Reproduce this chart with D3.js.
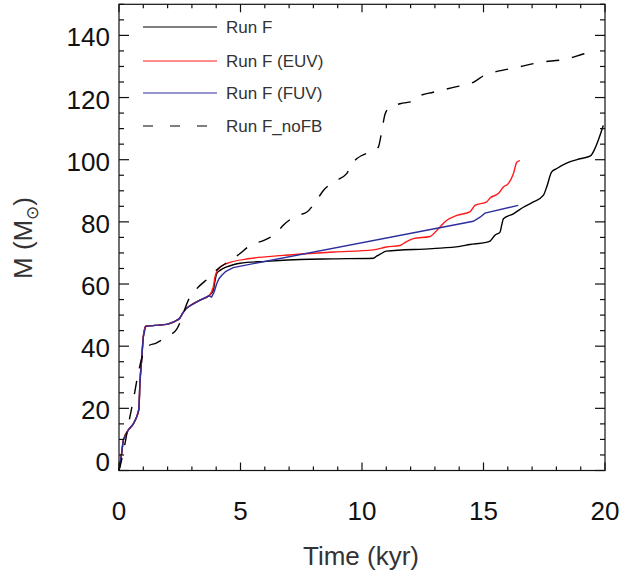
<html>
<head>
<script src="https://d3js.org/d3.v7.min.js"></script>
<style>
  body { margin: 0; background: #fff; }
  svg text { font-family: "Liberation Sans", Helvetica, Arial, sans-serif; }
</style>
</head>
<body>
<svg id="chart" width="622" height="575"></svg>
<script>
// time in kyr, mass in Msun
const early = [[0,0],[0.1,5],[0.18,9.8],[0.38,13],[0.59,15],[0.73,17.3],[0.82,19.8],[0.86,28],
  [0.93,35.5],[1.0,43],[1.1,46.4],[1.5,46.7],[1.96,47],[2.3,48],[2.5,49],[2.62,50.6],
  [2.75,52],[2.92,53],[3.33,54.8],[3.7,56.2]];

const runF = early.concat([[3.88,58],[3.95,61],[4.02,63.3],[4.16,64.4],[4.43,65.5],[4.7,66.2],
  [4.98,66.7],[6.08,67.3],[7.45,67.9],[8.82,68.1],[10.47,68.3],[10.6,69.0],[10.75,69.6],
  [11.0,70.6],[12.9,71.4],[14.03,72.1],[14.44,72.7],[15.1,73.4],[15.27,73.8],[15.47,75.7],
  [15.68,76.7],[15.75,79],[15.82,81],[16.23,82.6],[16.64,84.7],[17.05,86.4],[17.46,88.5],
  [17.6,91.2],[17.8,96],[18.0,97.1],[18.42,98.9],[18.97,100.3],[19.4,101.2],[19.55,103],
  [19.72,106.2],[19.93,111]]);

const runEUV = early.concat([[3.88,59],[3.95,62.3],[4.09,64.8],[4.43,66.6],[5.39,68.2],[6.76,69.2],
  [8.82,70.3],[10.47,71],[11.0,71.9],[11.56,72.4],[11.8,73.5],[12.11,74.6],[12.8,75.3],
  [13.14,77.8],[13.49,80.5],[13.9,82.1],[14.44,83.2],[14.65,85.3],[15.13,86.4],[15.27,87.7],
  [15.61,89.1],[15.82,91.2],[16.02,92.3],[16.23,95.5],[16.37,99.2],[16.5,99.7]]);

const runFUV = early.concat([[3.81,55.8],[3.92,57.5],[4.02,60.1],[4.12,61.8],[4.23,62.8],
  [4.4,64.1],[4.7,65.3],[14.58,80.2],[14.86,81.5],[15.06,82.8],[16.43,85.3]]);

const runNoFB = [[0,0],[0.04,1.2],[0.25,8.8],[0.45,17.3],[0.59,22.7],[0.79,31.2],[1.0,37.7],
  [1.14,39.8],[1.55,41.1],[1.96,43],[2.37,45.4],[2.92,55.8],[3.2,58.5],[3.74,62.3],[4.09,65],
  [4.57,67.5],[4.98,69.8],[5.39,72.4],[5.94,74],[6.49,76.5],[6.76,78.9],[7.31,82],[7.72,83.1],
  [8.13,86.9],[8.41,90.1],[8.82,92.8],[9.37,95.5],[9.58,98.7],[9.78,100.3],[10.47,103],
  [10.67,104],[10.81,109],[10.95,114.7],[11.15,116.9],[11.56,118],[12.18,119],[12.39,120.6],
  [12.93,121.7],[13.9,123.5],[14.58,124.9],[15.0,127],[15.41,128.1],[16.37,129.7],
  [17.32,131.3],[18.42,132.4],[19.1,134],[19.52,134.8]];

const xTicks = [0, 5, 10, 15, 20];
const yTicks = [0, 20, 40, 60, 80, 100, 120, 140];
const legendNames = ["Run F", "Run F (EUV)", "Run F (FUV)", "Run F_noFB"];

var svg = d3.select("#chart");
var x = d3.scaleLinear().domain([0, 20]).range([119, 605]);
var y = d3.scaleLinear().domain([0, 150]).range([470.5, 4.3]);

var series = [
  { data: runF, color: "#000000", dash: null, curve: d3.curveMonotoneX },
  { data: runEUV, color: "#ff1a1a", dash: null, curve: d3.curveMonotoneX },
  { data: runFUV, color: "#2e2e9e", dash: null, curve: d3.curveLinear },
  { data: runNoFB, color: "#000000", dash: "13,13", curve: d3.curveMonotoneX }
];

svg.append("g").selectAll("path")
  .data(series)
  .enter()
  .append("path")
  .attr("d", d => d3.line().x(p => x(p[0])).y(p => y(p[1])).curve(d.curve)(d.data))
  .attr("fill", "none")
  .attr("stroke", d => d.color)
  .attr("stroke-width", 1.4)
  .attr("stroke-dasharray", d => d.dash);

// axes box with inward ticks (IDL style)
var xMinor = d3.range(0, 21, 1);
var yMinor = d3.range(0, 151, 5);

var axes = svg.append("g").attr("stroke", "#111").attr("stroke-width", 1.2);
axes.append("rect")
  .attr("x", x(0)).attr("y", y(150))
  .attr("width", x(20) - x(0)).attr("height", y(0) - y(150))
  .attr("fill", "none");

xMinor.forEach(function (t) {
  var len = (t % 5 === 0) ? 8 : 4;
  axes.append("line").attr("x1", x(t)).attr("x2", x(t)).attr("y1", y(0)).attr("y2", y(0) - len);
  axes.append("line").attr("x1", x(t)).attr("x2", x(t)).attr("y1", y(150)).attr("y2", y(150) + len);
});
yMinor.forEach(function (m) {
  var len = (m % 20 === 0) ? 10 : 5;
  axes.append("line").attr("x1", x(0)).attr("x2", x(0) + len).attr("y1", y(m)).attr("y2", y(m));
  axes.append("line").attr("x1", x(20)).attr("x2", x(20) - len).attr("y1", y(m)).attr("y2", y(m));
});

svg.append("g").selectAll("text")
  .data(xTicks)
  .enter()
  .append("text")
  .attr("x", d => x(d))
  .attr("y", 520)
  .attr("text-anchor", "middle")
  .attr("font-size", 26)
  .attr("fill", "#111")
  .text(d => d);

svg.append("g").selectAll("text")
  .data(yTicks)
  .enter()
  .append("text")
  .attr("x", 110)
  .attr("y", d => d === 0 ? y(d) : y(d) + 11)
  .attr("text-anchor", "end")
  .attr("font-size", 26)
  .attr("fill", "#111")
  .text(d => d);

svg.append("text")
  .attr("x", 361)
  .attr("y", 565)
  .attr("text-anchor", "middle")
  .attr("font-size", 26)
  .attr("fill", "#333")
  .text("Time (kyr)");

var yt = svg.append("text")
  .attr("transform", "translate(32,238) rotate(-90)")
  .attr("text-anchor", "middle")
  .attr("font-size", 26)
  .attr("fill", "#333");
yt.append("tspan").text("M (M");
yt.append("tspan").attr("font-size", 17).attr("dy", 6).text("\u2299");
yt.append("tspan").attr("dy", -6).text(")");

// legend
var leg = svg.append("g").selectAll("g")
  .data(series)
  .enter()
  .append("g")
  .attr("transform", (d, i) => "translate(0," + [27, 61, 93, 126][i] + ")");
leg.append("line")
  .attr("x1", 143).attr("x2", 217)
  .attr("stroke", d => d.color)
  .attr("stroke-width", 1.1)
  .attr("stroke-dasharray", d => d.dash ? "10,17" : null);
leg.append("text")
  .attr("x", 226)
  .attr("y", 6)
  .attr("font-size", 17)
  .attr("fill", "#333")
  .text((d, i) => legendNames[i]);
</script>
</body>
</html>
